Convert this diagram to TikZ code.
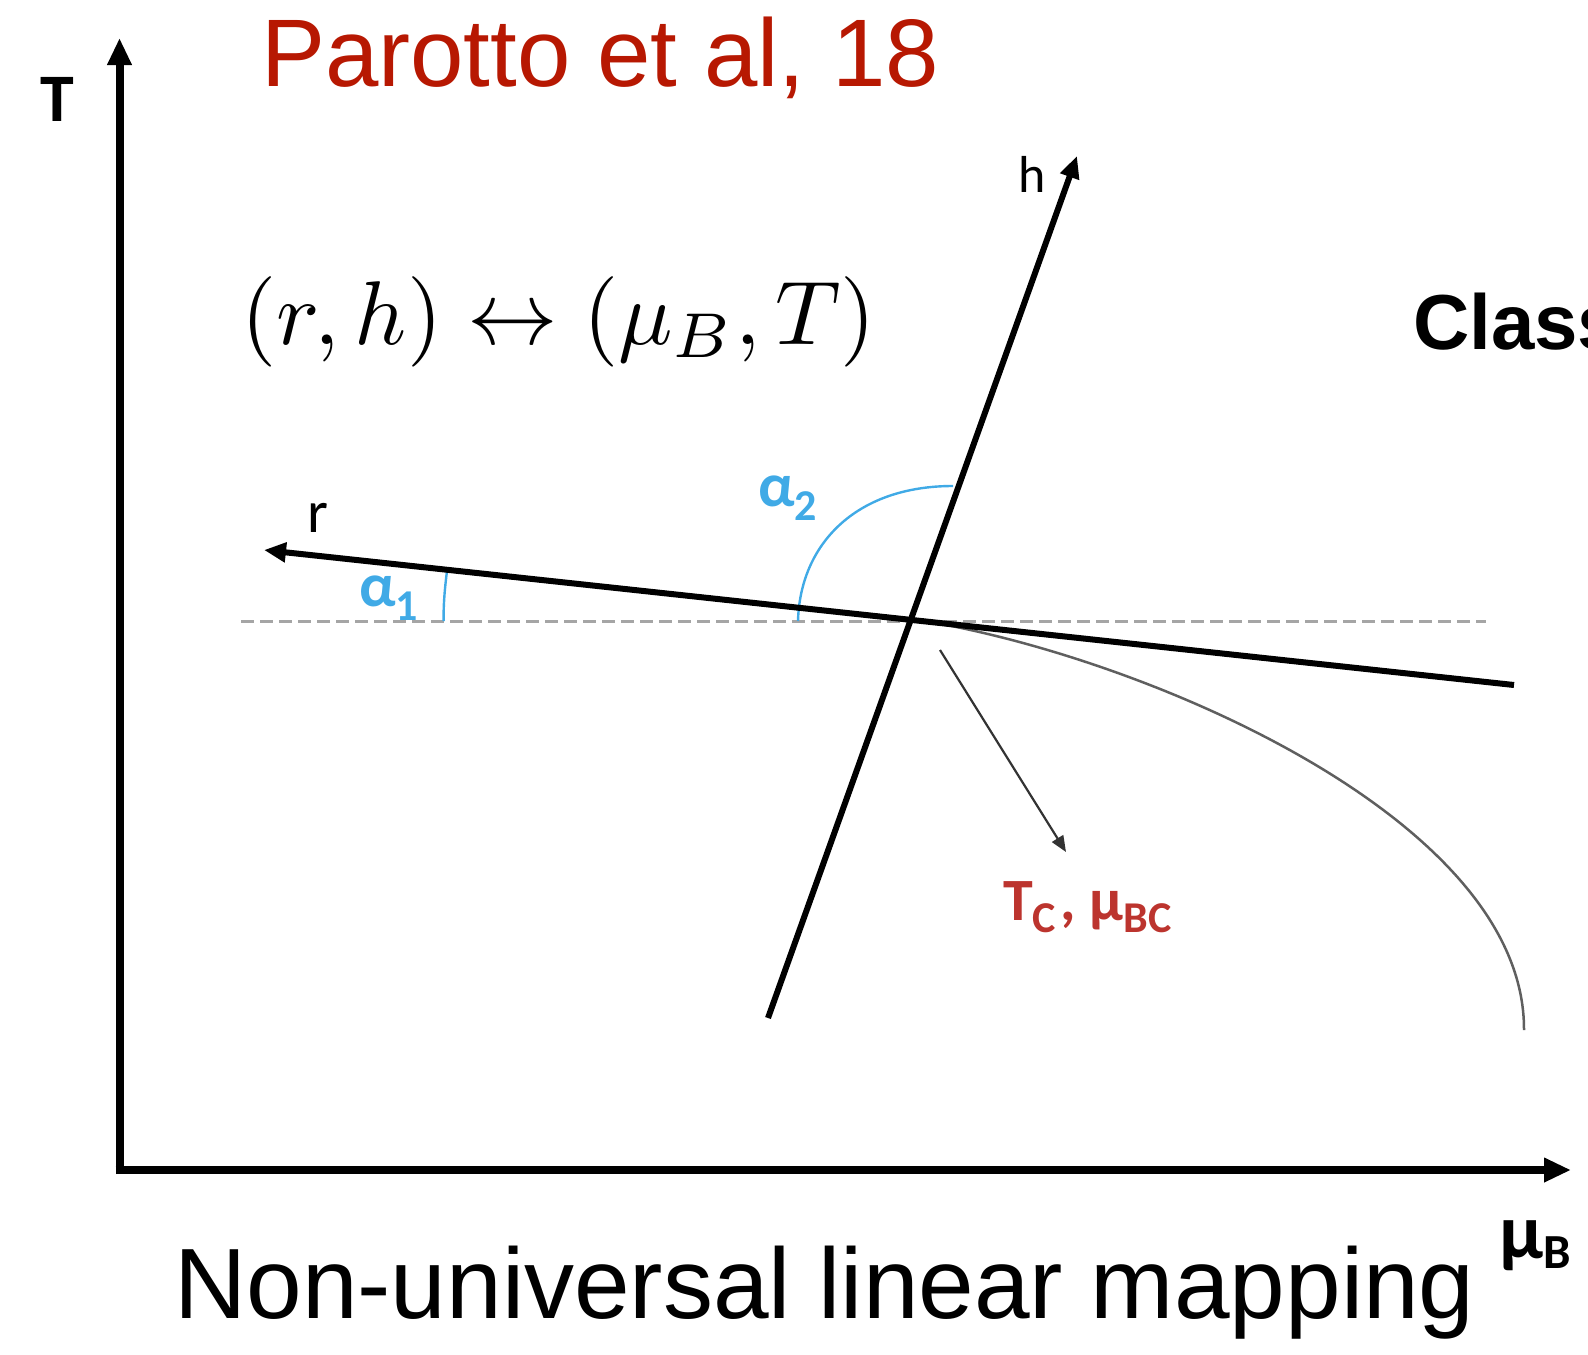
\documentclass[tikz,border=0pt]{standalone}
\usepackage{graphicx}
\usepackage{fontspec}
\usetikzlibrary{arrows.meta}
\newfontfamily\helv{Liberation Sans}
\newfontfamily\calib{Carlito}
\definecolor{titlered}{RGB}{183,24,2}
\definecolor{angblue}{RGB}{64,170,230}
\definecolor{tcred}{RGB}{188,52,46}
\definecolor{dashgray}{RGB}{165,165,165}
\definecolor{curvegray}{RGB}{95,95,95}
\begin{document}
\begin{tikzpicture}[x=1pt,y=-1pt,
  axisline/.style={line width=8pt,-{Triangle[length=27pt,width=23pt]}},
  dirline/.style={line width=6pt,-{Triangle[length=22pt,width=19pt]}},
  thinarrow/.style={line width=2.2pt,draw=black!80,-{Triangle[length=16pt,width=13pt]}},
  anglearc/.style={draw=angblue,line width=2.4pt},
  lbl/.style={inner sep=0pt,anchor=base west}]
\useasboundingbox (0,0) rectangle (1588,1355);

% coordinates
\coordinate (Ybot) at (119.5,1174);
\coordinate (Ytop) at (119.5,38);
\coordinate (Xbot) at (115.5,1170);
\coordinate (Xend) at (1571,1170);
\coordinate (dashL) at (241,621);
\coordinate (dashR) at (1486,621);
\coordinate (rstart) at (1514,685);
\coordinate (rend) at (264,550);
\coordinate (hstart) at (768,1018);
\coordinate (hend) at (1077,156);
\coordinate (a1s) at (443.6,621);
\coordinate (a1e) at (447,571);
\coordinate (a2s) at (798,621);
\coordinate (a2e) at (953,486);
\coordinate (cvs) at (930,622);
\coordinate (cve) at (1524,1030);
\coordinate (tas) at (940,650);
\coordinate (tae) at (1066,852);

% dashed reference line
\draw[draw=dashgray,line width=3pt,dash pattern=on 13pt off 6pt] (dashL) -- (dashR);

% crossover curve
\draw[draw=curvegray,line width=2.5pt] (cvs) .. controls (1150,660) and (1525,820) .. (cve);

% angle arcs
\draw[anglearc] (a1s) .. controls (443.4,604) and (444.8,588) .. (a1e);
\draw[anglearc] (a2s) .. controls (800,545) and (855,486) .. (a2e);

% r and h directions
\draw[dirline] (rstart) -- (rend);
\draw[dirline] (hstart) -- (hend);

% thin arrow to critical point
\draw[thinarrow] (tas) -- (tae);

% axes
\draw[axisline] (Ybot) -- (Ytop);
\draw[axisline] (Xbot) -- (Xend);

% labels
\node[lbl,text=titlered,font=\helv\fontsize{96}{96}\selectfont] (title) at (261,86) {Parotto et al, 18};
\node[lbl] (map) at (241,344) {\scalebox{9.05}{$(r,h)\leftrightarrow(\mu_B,T)$}};
\node[lbl,font=\helv\bfseries\fontsize{78}{78}\selectfont] (cls) at (1413,349) {Class};
\node[lbl,font=\helv\fontsize{100}{100}\selectfont] (sub) at (174,1318) {Non-universal linear mapping};
\node[inner sep=0pt,anchor=base,font=\calib\bfseries\fontsize{68}{68}\selectfont] (Tlab) at (57,121) {T};
\node[lbl,font=\calib\bfseries\fontsize{78}{78}\selectfont] (mulab) at (1499,1258) {μ\raisebox{-10pt}{\fontsize{49}{49}\selectfont B}};
\node[lbl,font=\calib\fontsize{60}{60}\selectfont] (rlab) at (307,532) {r};
\node[lbl,font=\calib\fontsize{52}{52}\selectfont] (hlab) at (1018,192) {h};
\node[lbl,text=angblue,font=\calib\bfseries\fontsize{62}{62}\selectfont] (al1) at (359,606) {α\raisebox{-14pt}{\fontsize{44}{44}\selectfont 1}};
\node[lbl,text=angblue,font=\calib\bfseries\fontsize{62}{62}\selectfont] (al2) at (758,506) {α\raisebox{-14pt}{\fontsize{44}{44}\selectfont 2}};
\node[lbl,text=tcred,font=\calib\bfseries\fontsize{60}{60}\selectfont] (tc) at (1003,920) {T\raisebox{-12pt}{\fontsize{44}{44}\selectfont C}\hspace{4pt},\hspace{14pt}μ\raisebox{-12pt}{\fontsize{44}{44}\selectfont BC}};
\end{tikzpicture}
\end{document}
